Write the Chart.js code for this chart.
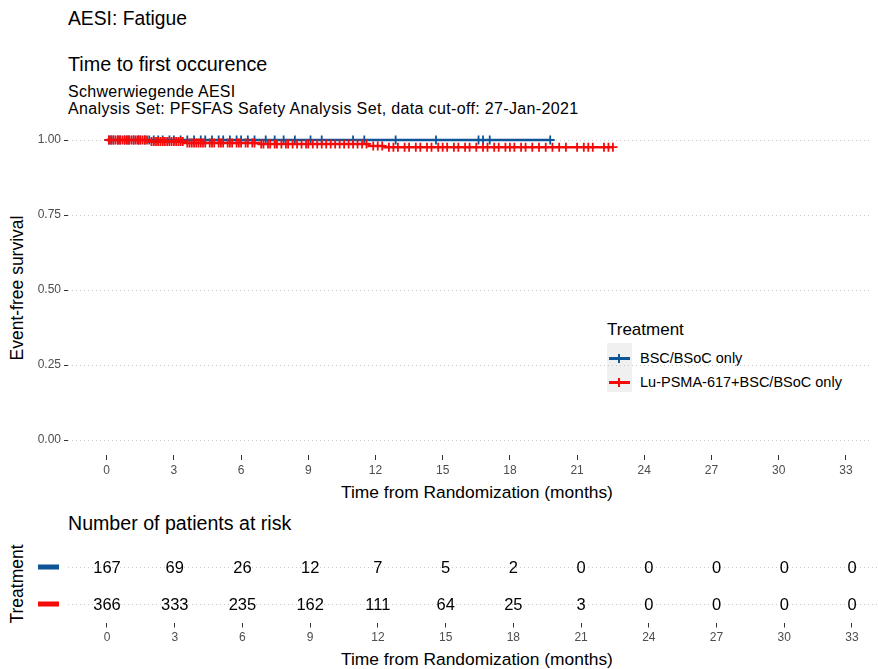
<!DOCTYPE html>
<html>
<head>
<meta charset="utf-8">
<script src="https://cdn.jsdelivr.net/npm/chart.js@4.4.1/dist/chart.umd.min.js"></script>
<style>
  body { margin: 0; width: 878px; height: 669px; overflow: hidden; background: #fff;
         font-family: "Liberation Sans", Arial, sans-serif; position: relative; }
  .t { position: absolute; white-space: nowrap; color: #000; line-height: 1; }
  .rot { transform: translate(-50%, -50%) rotate(-90deg); }
  .wrap { position: absolute; left: 0; width: 878px; }
</style>
</head>
<body>

<div class="t" style="left:68px;top:9px;font-size:19.3px">AESI: Fatigue</div>
<div class="t" style="left:68px;top:55px;font-size:19.8px">Time to first occurence</div>
<div class="t" style="left:68px;top:84px;font-size:16px;letter-spacing:0.3px">Schwerwiegende AESI</div>
<div class="t" style="left:68px;top:101px;font-size:16px;letter-spacing:0.35px">Analysis Set: PFSFAS Safety Analysis Set, data cut-off: 27-Jan-2021</div>

<div class="t rot" style="left:18px;top:288px;font-size:17.5px">Event-free survival</div>
<div class="t" style="left:341px;top:484px;font-size:17.4px">Time from Randomization (months)</div>

<!-- legend -->
<div class="t" style="left:607px;top:321px;font-size:17px">Treatment</div>
<div style="position:absolute;left:607px;top:343px;width:25px;height:49px;background:#f0f0f0"></div>
<div id="leg"></div>
<div class="t" style="left:640px;top:351px;font-size:14.5px">BSC/BSoC only</div>
<div class="t" style="left:640px;top:375px;font-size:14.5px">Lu-PSMA-617+BSC/BSoC only</div>

<div class="t" style="left:68px;top:514px;font-size:19.6px">Number of patients at risk</div>
<div class="t rot" style="left:18px;top:584px;font-size:17.5px">Treatment</div>
<div class="t" style="left:341px;top:651px;font-size:17.4px">Time from Randomization (months)</div>

<div class="wrap" style="top:0;height:505px"><canvas id="km"></canvas></div>
<div class="wrap" style="top:505px;height:164px"><canvas id="risk"></canvas></div>

<script>
// treatment arms
const arms = ["BSC/BSoC only", "Lu-PSMA-617+BSC/BSoC only"];
const armColors = ["#0d5596", "#f50a0a"];

// x ticks (months)
const xTicks = [0, 3, 6, 9, 12, 15, 18, 21, 24, 27, 30, 33];
const yTicks = [0, 0.25, 0.5, 0.75, 1];

// KM step curves (time, survival after the step)
const bscTimes = [0, 19.8];
const bscSurv = [1, 1];
const luTimes = [0, 1.9, 3.5, 6.8, 11.7, 12.4, 22.6];
const luSurv = [1, 0.995, 0.99, 0.987, 0.98, 0.976, 0.976];

// censoring times
const bscCensor = [0.1, 0.2, 0.3, 0.5, 0.6, 0.8, 0.9, 1.0, 1.2, 1.4, 1.5, 1.7, 1.9, 2.1, 2.3, 2.5, 2.8,
  3.0, 3.3, 3.6, 3.9, 4.2, 4.4, 4.7, 5.0, 5.2, 5.5, 5.8, 6.0, 6.3, 6.6, 7.1, 7.5, 7.9, 8.4, 9.1, 9.6,
  11.0, 11.5, 12.9, 14.7, 16.6, 16.8, 17.1, 19.8];
const luCensor = [0.1, 0.2, 0.3, 0.4, 0.5, 0.6, 0.7, 0.8, 0.9, 1.0, 1.1, 1.2, 1.3, 1.4, 1.5, 1.6, 1.7, 1.8,
  2.0, 2.1, 2.2, 2.3, 2.4, 2.5, 2.6, 2.7, 2.8, 2.9, 3.0, 3.1, 3.2, 3.3, 3.4, 3.6, 3.7, 3.8, 3.9, 4.0,
  4.1, 4.2, 4.3, 4.4, 4.6, 4.7, 4.8, 5.0, 5.1, 5.2, 5.4, 5.5, 5.6, 5.8, 5.9, 6.0, 6.2, 6.3, 6.5, 6.6,
  6.9, 7.0, 7.2, 7.3, 7.5, 7.6, 7.8, 8.0, 8.1, 8.3, 8.5, 8.7, 8.9, 9.0, 9.2, 9.4, 9.6, 9.8, 10.0, 10.2,
  10.4, 10.6, 10.8, 11.0, 11.2, 11.4, 11.6, 11.9, 12.1, 12.3, 12.6, 12.8, 13.0, 13.3, 13.5, 13.8, 14.0,
  14.3, 14.5, 14.8, 15.0, 15.2, 15.5, 15.7, 16.0, 16.2, 16.5, 16.8, 17.0, 17.3, 17.5, 17.8, 18.0, 18.2,
  18.5, 18.7, 19.0, 19.3, 19.6, 19.9, 20.2, 20.5, 21.0, 21.3, 21.5, 21.7, 22.2, 22.4, 22.6];

// number at risk
const riskTimes = xTicks;
const bscRisk = [167, 69, 26, 12, 7, 5, 2, 0, 0, 0, 0, 0];
const luRisk = [366, 333, 235, 162, 111, 64, 25, 3, 0, 0, 0, 0];

const xMin = -1.727, xMax = 34.152;

function survAt(times, surv, t) {
  let s = surv[0];
  for (let i = 0; i < times.length; i++) if (times[i] <= t) s = surv[i];
  return s;
}
const pts = (times, surv) => times.map((t, i) => ({ x: t, y: surv[i] }));
const cens = (c, times, surv) => c.map(t => ({ x: t, y: survAt(times, surv, t) }));

// legend keys
document.getElementById("leg").innerHTML = armColors.map((c, i) => {
  const y = 358 + i * 24;
  return `<div style="position:absolute;left:609px;top:${y - 1.5}px;width:21px;height:3px;background:${c}"></div>
          <div style="position:absolute;left:618px;top:${y - 4}px;width:2px;height:9px;background:${c}"></div>`;
}).join("");

const xAxis = {
  type: "linear", min: xMin, max: xMax,
  afterBuildTicks: s => { s.ticks = xTicks.map(v => ({ value: v })); },
  afterFit: s => { s.height = 50; },
  grid: { drawOnChartArea: false, tickLength: 5, tickColor: "#333", tickWidth: 1 },
  border: { display: false },
  ticks: { color: "#4d4d4d", font: { size: 12 }, padding: 3, maxRotation: 0, autoSkip: false }
};

new Chart(document.getElementById("km"), {
  type: "scatter",
  data: {
    datasets: [
      { data: pts(luTimes, luSurv), showLine: true, stepped: true, borderColor: armColors[1],
        borderWidth: 2.5, pointRadius: 0, order: 1 },
      { data: cens(luCensor, luTimes, luSurv), pointStyle: "cross", pointRadius: 4.5,
        borderColor: armColors[1], backgroundColor: armColors[1], borderWidth: 1.8, order: 1 },
      { data: pts(bscTimes, bscSurv), showLine: true, stepped: true, borderColor: armColors[0],
        borderWidth: 2.5, pointRadius: 0, order: 2 },
      { data: cens(bscCensor, bscTimes, bscSurv), pointStyle: "cross", pointRadius: 4.5,
        borderColor: armColors[0], backgroundColor: armColors[0], borderWidth: 1.8, order: 2 }
    ]
  },
  options: {
    responsive: true, maintainAspectRatio: false, animation: false,
    layout: { padding: { top: 125, right: 0, left: 0, bottom: 0 } },
    plugins: { legend: { display: false }, tooltip: { enabled: false } },
    scales: {
      x: xAxis,
      y: {
        min: -0.05, max: 1.05,
        afterBuildTicks: s => { s.ticks = yTicks.map(v => ({ value: v })); },
        afterFit: s => { s.width = 68; },
        grid: { color: "#c8c8c8", lineWidth: 1, tickLength: 4, tickColor: "#333", tickBorderDash: [] },
        border: { display: false, dash: [1, 3] },
        ticks: { color: "#4d4d4d", font: { size: 12 }, padding: 3, callback: v => v.toFixed(2) }
      }
    }
  }
});

// risk table
const riskText = {
  id: "riskText",
  afterDatasetsDraw(chart) {
    const { ctx, scales: { x, y } } = chart;
    ctx.save();
    ctx.font = "16.5px 'Liberation Sans', Arial, sans-serif";
    ctx.textAlign = "center";
    ctx.textBaseline = "middle";
    [bscRisk, luRisk].forEach((row, r) => {
      ctx.fillStyle = "#000";
      row.forEach((n, i) => ctx.fillText(String(n), x.getPixelForValue(riskTimes[i]), y.getPixelForValue(r) + 1));
      ctx.fillStyle = armColors[r];
      ctx.fillRect(38, y.getPixelForValue(r) - 2.5, 21, 5);
    });
    ctx.restore();
  }
};

new Chart(document.getElementById("risk"), {
  type: "scatter",
  data: { datasets: [{ data: [], pointRadius: 0 }] },
  options: {
    responsive: true, maintainAspectRatio: false, animation: false,
    layout: { padding: { top: 43.5, right: 0, left: 0, bottom: 0 } },
    plugins: { legend: { display: false }, tooltip: { enabled: false } },
    scales: {
      x: Object.assign({}, xAxis, { afterFit: s => { s.height = 46.5; } }),
      y: {
        reverse: true, min: -0.5, max: 1.5,
        afterBuildTicks: s => { s.ticks = [0, 1].map(v => ({ value: v })); },
        afterFit: s => { s.width = 68; },
        grid: { color: "#c8c8c8", drawTicks: false },
        border: { display: false, dash: [1, 3] },
        ticks: { display: false }
      }
    }
  },
  plugins: [riskText]
});
</script>
</body>
</html>
